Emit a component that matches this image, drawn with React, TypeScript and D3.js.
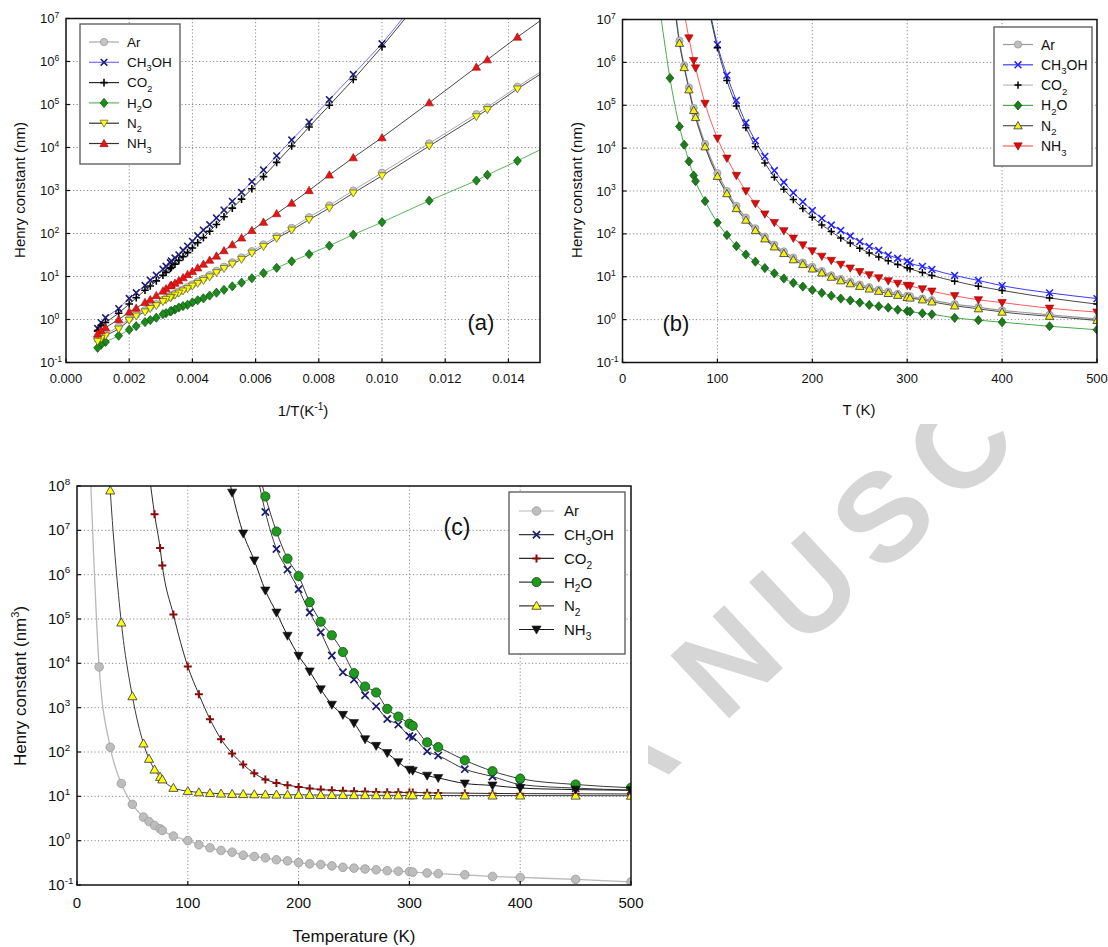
import React from "react";
import * as d3 from "d3";

const FONT = "'Liberation Sans', Arial, Helvetica, sans-serif";

// ---------- temperature grids (K) ----------
const T_MID = [100, 110, 120, 130, 140, 150, 160, 170, 180, 190, 200, 210, 220, 230, 240, 250, 260, 270, 280, 290, 300];
const T_HIGH_AB = [303, 316, 326, 350, 375, 400, 450, 500, 600, 800, 900, 1000];
const T_HIGH_C = [303, 316, 326, 350, 375, 400, 450, 500];

// ---------- panels (a) & (b): Henry constant (nm) ----------
const AB_T_AR = [55, 60, 65, 70, 75, 77, 87, ...T_MID, ...T_HIGH_AB];
const AB_H_AR = [2.3e7, 3.2e6, 8.5e5, 2.6e5, 8.6e4, 6.0e4, 1.25e4,
  2.6e3, 1.0e3, 450, 240, 135, 86, 56, 39, 28, 21.5, 17, 13.6, 10.8, 8.9, 7.6, 6.6, 5.7, 5.0, 4.5, 4.0, 3.6,
  3.5, 3.1, 2.85, 2.3, 1.95, 1.65, 1.3, 1.04, 0.68, 0.46, 0.4, 0.35];

const AB_T_CH3OH = [90, ...T_MID, ...T_HIGH_AB];
const AB_H_CH3OH = [2.6e7,
  2.6e6, 5.0e5, 1.3e5, 3.9e4, 1.5e4, 6.4e3, 3.0e3, 1.6e3, 910, 560, 350, 230, 161, 120, 89, 66, 51, 41, 32, 27, 23,
  21, 17.4, 14.8, 10.7, 8.2, 6.2, 4.2, 3.1, 1.8, 1.1, 0.85, 0.62];

const AB_T_CO2 = [90, ...T_MID, ...T_HIGH_AB];
const AB_H_CO2 = [2.2e7,
  2.2e6, 3.8e5, 9.6e4, 3.0e4, 1.08e4, 4.5e3, 2.1e3, 1.1e3, 630, 390, 245, 162, 113, 80, 61, 46, 36, 29, 23.5, 19.4, 16.2,
  15.3, 12.5, 10.7, 7.9, 6.0, 4.8, 3.2, 2.3, 1.4, 0.85, 0.72, 0.55];

const AB_T_H2O = [40, 50, 60, 65, 70, 75, 77, 87, ...T_MID, ...T_HIGH_AB];
const AB_H_H2O = [1.4e7, 4.3e5, 3.2e4, 1.2e4, 4.9e3, 2.3e3, 1.7e3, 580,
  183, 94, 52, 33, 22.5, 15.9, 12, 9.1, 7.2, 5.9, 4.9, 4.2, 3.6, 3.1, 2.8, 2.5, 2.2, 2.05, 1.9, 1.7, 1.58,
  1.54, 1.4, 1.33, 1.1, 0.97, 0.87, 0.70, 0.58, 0.42, 0.30, 0.26, 0.22];

const AB_T_N2 = [55, 60, 65, 70, 75, 77, 87, ...T_MID, ...T_HIGH_AB];
const AB_H_N2 = [2.0e7, 2.8e6, 7.6e5, 2.3e5, 7.6e4, 5.2e4, 1.08e4,
  2.2e3, 870, 390, 210, 120, 77, 50, 35, 25, 19.4, 15.3, 12.3, 9.8, 8.1, 6.9, 6.0, 5.2, 4.6, 4.1, 3.7, 3.3,
  3.2, 2.9, 2.6, 2.1, 1.8, 1.5, 1.2, 0.96, 0.6, 0.42, 0.36, 0.31];

const AB_T_NH3 = [65, 70, 75, 77, 87, ...T_MID, ...T_HIGH_AB];
const AB_H_NH3 = [1.4e7, 3.7e6, 1.1e6, 7.4e5, 1.1e5,
  1.7e4, 5.8e3, 2.3e3, 1.0e3, 510, 290, 183, 118, 79, 55, 40, 30, 24, 19.4, 15.9, 13.1, 11.1, 9.4, 8.0, 7.0, 6.3,
  6.1, 5.2, 4.6, 3.6, 2.9, 2.5, 1.84, 1.5, 1.0, 0.65, 0.55, 0.46];

// ---------- panel (c): Henry constant (nm^3) ----------
const C_T_AR = [10, 20, 30, 40, 50, 60, 65, 70, 75, 77, 87, ...T_MID, ...T_HIGH_C];
const C_H_AR = [5e9, 8.3e3, 128, 19.5, 6.6, 3.4, 2.7, 2.2, 1.85, 1.7, 1.27,
  1.0, 0.81, 0.69, 0.60, 0.55, 0.47, 0.44, 0.41, 0.37, 0.35, 0.32, 0.30, 0.29, 0.27, 0.25, 0.24, 0.23, 0.22, 0.21, 0.205, 0.20,
  0.195, 0.187, 0.18, 0.17, 0.156, 0.148, 0.134, 0.118];

const C_T_CH3OH = [160, 170, 180, 190, 200, 210, 220, 230, 240, 250, 260, 270, 280, 290, 300, ...T_HIGH_C];
const C_H_CH3OH = [4e8, 2.6e7, 3.8e6, 1.3e6, 4.7e5, 1.4e5, 5.0e4, 1.5e4, 6.3e3, 4.3e3, 1.9e3, 1.07e3, 555, 415, 230,
  215, 104, 83, 41, 28, 18.5, 15.3, 13.9];

const C_T_CO2 = [65, 70, 75, 77, 87, ...T_MID, ...T_HIGH_C];
const C_H_CO2 = [2e8, 2.3e7, 4e6, 1.6e6, 1.26e5,
  8.5e3, 2.0e3, 550, 195, 93, 52, 33, 24, 20, 17.8, 16.3, 15.1, 14.2, 13.7, 13.3, 13.0, 12.8, 12.6, 12.4, 12.3, 12.2,
  12.2, 12.0, 11.9, 11.8, 11.6, 11.5, 11.4, 11.3];

const C_T_H2O = [160, 170, 180, 190, 200, 210, 220, 230, 240, 250, 260, 270, 280, 290, 300, ...T_HIGH_C];
const C_H_H2O = [5e8, 5.8e7, 9.4e6, 2.3e6, 9.3e5, 2.4e5, 8.7e4, 4.3e4, 1.8e4, 6.0e3, 3.0e3, 2.2e3, 940, 630, 435,
  390, 165, 129, 65, 37, 25, 18.5, 15.6];

const C_T_N2 = [25, 30, 40, 50, 60, 65, 70, 75, 77, 87, ...T_MID, ...T_HIGH_C];
const C_H_N2 = [1e10, 7.9e7, 8.3e4, 1.8e3, 155, 70, 40, 27.4, 24, 15.5,
  13.1, 12.3, 11.8, 11.5, 11.3, 11.2, 11.1, 11.0, 10.9, 10.85, 10.8, 10.75, 10.7, 10.7, 10.65, 10.6, 10.6, 10.55, 10.55, 10.5, 10.5,
  10.5, 10.45, 10.45, 10.4, 10.4, 10.4, 10.35, 10.3];

const C_T_NH3 = [130, 140, 150, 160, 170, 180, 190, 200, 210, 220, 230, 240, 250, 260, 270, 280, 290, 300, ...T_HIGH_C];
const C_H_NH3 = [1e9, 7.1e7, 8.5e6, 2.1e6, 4.4e5, 1.4e5, 4.2e4, 1.48e4, 6.6e3, 2.6e3, 1.17e3, 690, 450, 195, 138, 95, 59, 40,
  38, 29.3, 26, 19.5, 17.6, 15.4, 14.2, 13.7];

// ---------- labels ----------
const SPECIES = ["Ar", "CH3OH", "CO2", "H2O", "N2", "NH3"];
const A_X_TICKS = [0, 0.002, 0.004, 0.006, 0.008, 0.010, 0.012, 0.014];
const T_TICKS = [0, 100, 200, 300, 400, 500];

type Sty = { line: string; lw: number; mk: string; ms: number; fill: string; stroke: string; msw: number; legLine?: string };

function Marker({ t, x, y, s, fill, stroke, sw }: { t: string; x: number; y: number; s: number; fill: string; stroke: string; sw: number }) {
  if (t === "circle") return <circle cx={x} cy={y} r={s} fill={fill} stroke={stroke} strokeWidth={sw} />;
  if (t === "x")
    return <path d={`M${x - s},${y - s}L${x + s},${y + s}M${x - s},${y + s}L${x + s},${y - s}`} stroke={stroke} strokeWidth={sw} fill="none" />;
  if (t === "plus")
    return <path d={`M${x - s},${y}L${x + s},${y}M${x},${y - s}L${x},${y + s}`} stroke={stroke} strokeWidth={sw} fill="none" />;
  if (t === "diamond")
    return <path d={`M${x},${y - s}L${x + s * 0.85},${y}L${x},${y + s}L${x - s * 0.85},${y}Z`} fill={fill} stroke={stroke} strokeWidth={sw} />;
  if (t === "up")
    return <path d={`M${x},${y - s}L${x + s},${y + s * 0.75}L${x - s},${y + s * 0.75}Z`} fill={fill} stroke={stroke} strokeWidth={sw} />;
  return <path d={`M${x},${y + s}L${x + s},${y - s * 0.75}L${x - s},${y - s * 0.75}Z`} fill={fill} stroke={stroke} strokeWidth={sw} />;
}

function Chem({ text, x, y, fs }: { text: string; x: number; y: number; fs: number }) {
  const parts = text.split(/(\d)/).filter(Boolean);
  let shifted = false;
  const out: React.ReactNode[] = [];
  parts.forEach((p, i) => {
    if (/^\d$/.test(p)) {
      out.push(<tspan key={i} dy={fs * 0.32} fontSize={fs * 0.68}>{p}</tspan>);
      shifted = true;
    } else {
      out.push(<tspan key={i} dy={shifted ? -fs * 0.32 : 0}>{p}</tspan>);
      shifted = false;
    }
  });
  return <text x={x} y={y} fontSize={fs} fontFamily={FONT} fill="#111">{out}</text>;
}

type SeriesDef = { T: number[]; H: number[]; sty: Sty };

type PanelProps = {
  id: string; left: number; right: number; top: number; bottom: number;
  xDomain: [number, number]; eMin: number; eMax: number; xTicks: number[]; xFmt: (v: number) => string;
  xOf: (T: number) => number; series: SeriesDef[]; curve: d3.CurveFactory;
  tickFs: number; yLabX: number; xLabBase: number; yLabBase: number;
};

function Panel(p: PanelProps) {
  const xs = d3.scaleLinear().domain(p.xDomain).range([p.left, p.right]);
  const ys = d3.scaleLog().domain([Math.pow(10, p.eMin), Math.pow(10, p.eMax)]).range([p.bottom, p.top]);
  const decades = d3.range(p.eMin, p.eMax + 1);
  const lineGen = d3.line<[number, number]>().x((d) => xs(d[0])).y((d) => ys(d[1])).curve(p.curve);
  const clip = `clip-${p.id}`;
  const grid = "#8a8a8a";
  return (
    <g>
      <defs>
        <clipPath id={clip}>
          <rect x={p.left} y={p.top} width={p.right - p.left} height={p.bottom - p.top} />
        </clipPath>
      </defs>
      {p.xTicks.filter((v) => v > p.xDomain[0] && v < p.xDomain[1]).map((v) => (
        <line key={"gx" + v} x1={xs(v)} x2={xs(v)} y1={p.top} y2={p.bottom} stroke={grid} strokeWidth={1} strokeDasharray="1.2,2.3" />
      ))}
      {decades.filter((e) => e > p.eMin && e < p.eMax).map((e) => (
        <line key={"gy" + e} x1={p.left} x2={p.right} y1={ys(Math.pow(10, e))} y2={ys(Math.pow(10, e))} stroke={grid} strokeWidth={1} strokeDasharray="1.2,2.3" />
      ))}
      <g clipPath={`url(#${clip})`}>
        {p.series.map((s, i) => {
          const pts = s.T.map((t, j) => [p.xOf(t), s.H[j]] as [number, number]).sort((a, b) => a[0] - b[0]);
          return <path key={"l" + i} d={lineGen(pts) || ""} fill="none" stroke={s.sty.line} strokeWidth={s.sty.lw} />;
        })}
        {p.series.map((s, i) => (
          <g key={"m" + i}>
            {s.T.map((t, j) => {
              const x = xs(p.xOf(t));
              const y = ys(s.H[j]);
              if (x < p.left - 6 || x > p.right + 6 || y < p.top - 6 || y > p.bottom + 6) return null;
              return <Marker key={j} t={s.sty.mk} x={x} y={y} s={s.sty.ms} fill={s.sty.fill} stroke={s.sty.stroke} sw={s.sty.msw} />;
            })}
          </g>
        ))}
      </g>
      {p.xTicks.map((v) => (
        <line key={"tx" + v} x1={xs(v)} x2={xs(v)} y1={p.bottom} y2={p.bottom - 4} stroke="#111" strokeWidth={1.2} />
      ))}
      {decades.map((e) => (
        <line key={"ty" + e} x1={p.left} x2={p.left + 4} y1={ys(Math.pow(10, e))} y2={ys(Math.pow(10, e))} stroke="#111" strokeWidth={1.2} />
      ))}
      <rect x={p.left} y={p.top} width={p.right - p.left} height={p.bottom - p.top} fill="none" stroke="#111" strokeWidth={1.5} />
      {p.xTicks.map((v) => (
        <text key={"lx" + v} x={xs(v)} y={p.xLabBase} fontSize={p.tickFs} fontFamily={FONT} textAnchor="middle" fill="#111">
          {p.xFmt(v)}
        </text>
      ))}
      {decades.map((e) => (
        <text key={"ly" + e} x={p.yLabX} y={ys(Math.pow(10, e)) + p.yLabBase} fontSize={p.tickFs} fontFamily={FONT} fill="#111">
          10<tspan dy={-p.tickFs * 0.42} fontSize={p.tickFs * 0.66}>{e < 0 ? "-" + Math.abs(e) : String(e)}</tspan>
        </text>
      ))}
    </g>
  );
}

function Legend({ x, y, w, h, rowY, dy, lx0, lx1, tx, fs, styles }: { x: number; y: number; w: number; h: number; rowY: number; dy: number; lx0: number; lx1: number; tx: number; fs: number; styles: Sty[] }) {
  return (
    <g>
      <rect x={x} y={y} width={w} height={h} fill="#fff" stroke="#555" strokeWidth={1.3} />
      {SPECIES.map((name, i) => {
        const yy = rowY + i * dy;
        const s = styles[i];
        return (
          <g key={name}>
            <line x1={lx0} x2={lx1} y1={yy} y2={yy} stroke={s.legLine || s.line} strokeWidth={1.2} />
            <Marker t={s.mk} x={(lx0 + lx1) / 2} y={yy} s={s.ms} fill={s.fill} stroke={s.stroke} sw={s.msw} />
            <Chem text={name} x={tx} y={yy + fs * 0.36} fs={fs} />
          </g>
        );
      })}
    </g>
  );
}

// styles (order: Ar, CH3OH, CO2, H2O, N2, NH3)
const STY_A: Sty[] = [
  { line: "#a8a8a8", lw: 1, mk: "circle", ms: 3.6, fill: "#c4c4c4", stroke: "#989898", msw: 0.8 },
  { line: "#7070ff", lw: 1, mk: "x", ms: 3.3, fill: "none", stroke: "#1e1e78", msw: 1.6 },
  { line: "#2a2a2a", lw: 0.9, mk: "plus", ms: 3.8, fill: "none", stroke: "#000", msw: 1.6 },
  { line: "#5cb85c", lw: 1, mk: "diamond", ms: 4.6, fill: "#1d8a1d", stroke: "#0d4d0d", msw: 0.7 },
  { line: "#333", lw: 0.9, mk: "down", ms: 4.0, fill: "#ffff10", stroke: "#5a5a20", msw: 0.7 },
  { line: "#333", lw: 0.9, mk: "up", ms: 4.2, fill: "#e81414", stroke: "#9a1010", msw: 0.6 },
];
const STY_B: Sty[] = [
  { line: "#9a9a9a", lw: 1.2, mk: "circle", ms: 3.6, fill: "#c0c0c0", stroke: "#959595", msw: 0.8 },
  { line: "#3a3aff", lw: 1, mk: "x", ms: 3.4, fill: "none", stroke: "#2020ff", msw: 1.5 },
  { line: "#333", lw: 0.9, mk: "plus", ms: 3.6, fill: "none", stroke: "#000", msw: 1.5, legLine: "#bbb" },
  { line: "#4aaa4a", lw: 1, mk: "diamond", ms: 4.6, fill: "#1d7a1d", stroke: "#0d4d0d", msw: 0.7 },
  { line: "#505050", lw: 1.1, mk: "up", ms: 4.2, fill: "#f4f010", stroke: "#333", msw: 0.8 },
  { line: "#ff5a5a", lw: 1, mk: "down", ms: 4.2, fill: "#dd0a0a", stroke: "#8a0a0a", msw: 0.6 },
];
const STY_C: Sty[] = [
  { line: "#b8b8b8", lw: 1.3, mk: "circle", ms: 4.3, fill: "#bdbdbd", stroke: "#9a9a9a", msw: 0.8 },
  { line: "#3a3a3a", lw: 1, mk: "x", ms: 3.6, fill: "none", stroke: "#1c1c6e", msw: 1.7 },
  { line: "#2a2a2a", lw: 1, mk: "plus", ms: 4, fill: "none", stroke: "#8a0a0a", msw: 2 },
  { line: "#3a3a3a", lw: 1, mk: "circle", ms: 4.6, fill: "#1f9a1f", stroke: "#0b4f0b", msw: 0.8 },
  { line: "#3a3a3a", lw: 1, mk: "up", ms: 4.6, fill: "#ffff10", stroke: "#444", msw: 0.9 },
  { line: "#1a1a1a", lw: 1, mk: "down", ms: 4.6, fill: "#111", stroke: "#111", msw: 0.6 },
];

export default function App() {
  const abData = [
    [AB_T_AR, AB_H_AR], [AB_T_CH3OH, AB_H_CH3OH], [AB_T_CO2, AB_H_CO2],
    [AB_T_H2O, AB_H_H2O], [AB_T_N2, AB_H_N2], [AB_T_NH3, AB_H_NH3],
  ];
  const cData = [
    [C_T_AR, C_H_AR], [C_T_CH3OH, C_H_CH3OH], [C_T_CO2, C_H_CO2],
    [C_T_H2O, C_H_H2O], [C_T_N2, C_H_N2], [C_T_NH3, C_H_NH3],
  ];
  const seriesA: SeriesDef[] = abData.map((d, i) => ({ T: d[0], H: d[1], sty: STY_A[i] }));
  const seriesB: SeriesDef[] = abData.map((d, i) => ({ T: d[0], H: d[1], sty: STY_B[i] }));
  const seriesC: SeriesDef[] = cData.map((d, i) => ({ T: d[0], H: d[1], sty: STY_C[i] }));
  return (
    <svg width={1108} height={947} style={{ display: "block", position: "absolute", left: 0, top: 0, background: "#fff" }} fontFamily={FONT}>
      <rect x={0} y={0} width={1108} height={947} fill="#fff" />
      {/* watermark, mostly hidden behind the panels */}
      <text transform="translate(529,905) rotate(-43)" fontSize={125} fontWeight="bold" letterSpacing={18} fill="#d6d6d6" fontFamily={FONT}>
        MA<tspan dx={35}>NUSC</tspan>
      </text>
      <rect x={0} y={0} width={1108} height={424} fill="#fff" />
      <rect x={0} y={438} width={648} height={509} fill="#fff" />

      {/* panel (a) */}
      <Panel id="a" left={66} right={540} top={18.5} bottom={362.5} xDomain={[0, 0.015]} eMin={-1} eMax={7}
        xTicks={A_X_TICKS} xFmt={(v) => v.toFixed(3)} xOf={(T) => 1 / T} series={seriesA} curve={d3.curveLinear}
        tickFs={13} yLabX={40} xLabBase={383} yLabBase={4.5} />
      <Legend x={80} y={24} w={100} h={140} rowY={42} dy={20.3} lx0={89} lx1={119} tx={127} fs={13.5} styles={STY_A} />
      <text x={481} y={330} fontSize={22} fontFamily={FONT} textAnchor="middle" fill="#111">(a)</text>
      <text x={303} y={416} fontSize={15} fontFamily={FONT} textAnchor="middle" fill="#111">
        1/T(K<tspan dy={-6} fontSize={10}>-1</tspan><tspan dy={6}>)</tspan>
      </text>
      <text transform="translate(25,190) rotate(-90)" fontSize={15} fontFamily={FONT} textAnchor="middle" fill="#111">Henry constant (nm)</text>

      {/* panel (b) */}
      <Panel id="b" left={622.5} right={1097} top={19.5} bottom={362.5} xDomain={[0, 500]} eMin={-1} eMax={7}
        xTicks={T_TICKS} xFmt={(v) => String(v)} xOf={(T) => T} series={seriesB} curve={d3.curveMonotoneX}
        tickFs={13} yLabX={596.5} xLabBase={383} yLabBase={4.5} />
      <Legend x={994} y={27} w={98} h={139} rowY={44.5} dy={20.3} lx0={1003} lx1={1033} tx={1041} fs={14} styles={STY_B} />
      <text x={676} y={331} fontSize={22} fontFamily={FONT} textAnchor="middle" fill="#111">(b)</text>
      <text x={859} y={415} fontSize={15} fontFamily={FONT} textAnchor="middle" fill="#111">T (K)</text>
      <text transform="translate(582,190) rotate(-90)" fontSize={15} fontFamily={FONT} textAnchor="middle" fill="#111">Henry constant (nm)</text>

      {/* panel (c) */}
      <Panel id="c" left={77} right={631} top={486} bottom={885} xDomain={[0, 500]} eMin={-1} eMax={8}
        xTicks={T_TICKS} xFmt={(v) => String(v)} xOf={(T) => T} series={seriesC} curve={d3.curveMonotoneX}
        tickFs={15} yLabX={48} xLabBase={908} yLabBase={5} />
      <Legend x={509} y={492} w={116} h={162} rowY={511} dy={23.7} lx0={519} lx1={554} tx={564} fs={15} styles={STY_C} />
      <text x={457} y={535} fontSize={23} fontFamily={FONT} textAnchor="middle" fill="#111">(c)</text>
      <text x={354} y={942} fontSize={17} fontFamily={FONT} textAnchor="middle" fill="#111">Temperature (K)</text>
      <text transform="translate(26,686) rotate(-90)" fontSize={17} fontFamily={FONT} textAnchor="middle" fill="#111">
        Henry constant (nm<tspan dy={-7} fontSize={11}>3</tspan><tspan dy={7}>)</tspan>
      </text>
    </svg>
  );
}
